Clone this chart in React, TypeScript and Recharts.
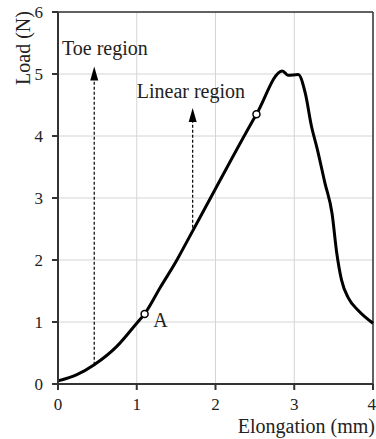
import React from 'react';
import { LineChart, Line, XAxis, YAxis, CartesianGrid, ReferenceLine, ReferenceDot, Label } from 'recharts';

// load–elongation curve
const elongation = [0, 0.24, 0.46, 0.75, 1.0, 1.1, 1.3, 1.51, 1.63, 2.0, 2.52, 2.85, 2.92, 3.05, 3.14, 3.22, 3.29, 3.39, 3.48, 3.54, 3.6, 3.69, 3.81, 4.0];
const load = [0.05, 0.15, 0.31, 0.61, 0.98, 1.13, 1.56, 2.0, 2.28, 3.15, 4.35, 5.05, 4.98, 4.99, 4.69, 4.15, 3.8, 3.24, 2.75, 2.11, 1.68, 1.38, 1.19, 0.98];

const xTicks = [0, 1, 2, 3, 4];
const yTicks = [0, 1, 2, 3, 4, 5, 6];

// open circles on the curve
const markX = [1.1, 2.52];
const markY = [1.13, 4.35];

// dashed arrows: x, start load, tip load
const arrowX = [0.46, 1.71];
const arrowFrom = [0.31, 2.52];
const arrowTo = [5.12, 4.45];

// annotation texts (left / baseline in data units)
const noteText = ['Toe region', 'Linear region', 'A'];
const noteX = [0.05, 1.0, 1.21];
const noteY = [5.31, 4.61, 0.915];

const data = elongation.map((e, i) => ({ e, load: load[i] }));

const serif = 'Liberation Serif';
const ink = '#222';
const textStyle = { fontFamily: serif };

export default function App() {
  return (
    <div style={{ position: 'absolute', left: 0, top: 0, width: 376, height: 439, background: '#fff', fontFamily: serif }}>
      <LineChart width={376} height={439} data={data} margin={{ top: 12, right: 3, bottom: 0, left: 0 }} style={textStyle}>
        <CartesianGrid stroke="#d4d4d4" strokeWidth={1} />
        <XAxis
          type="number"
          dataKey="e"
          domain={[0, 4]}
          ticks={xTicks}
          height={55}
          stroke="#333"
          strokeWidth={2}
          tickSize={6}
          tickMargin={8}
          tick={{ fill: ink, fontSize: 17, fontFamily: serif, style: textStyle }}
        >
          <Label
            content={(p: any) => (
              <text
                x={p.viewBox.x + p.viewBox.width + 2}
                y={p.viewBox.y + 49}
                textAnchor="end"
                fill={ink}
                fontSize={20}
                style={textStyle}
              >
                Elongation (mm)
              </text>
            )}
          />
        </XAxis>
        <YAxis
          type="number"
          domain={[0, 6]}
          ticks={yTicks}
          width={58}
          stroke="#333"
          strokeWidth={2}
          tickSize={6}
          tickMargin={9}
          tick={{ fill: ink, fontSize: 17, fontFamily: serif, style: textStyle }}
        >
          <Label
            content={(p: any) => (
              <text
                x={30}
                y={p.viewBox.y + 36}
                transform={`rotate(-90, 30, ${p.viewBox.y + 36})`}
                textAnchor="middle"
                fill={ink}
                fontSize={20}
                style={textStyle}
              >
                Load (N)
              </text>
            )}
          />
        </YAxis>
        <ReferenceLine y={6} stroke="#333" strokeWidth={1.5} />
        <ReferenceLine x={4} stroke="#333" strokeWidth={1.5} />
        {arrowX.map((x, i) => (
          <ReferenceLine
            key={'a' + i}
            segment={[{ x, y: arrowFrom[i] }, { x, y: arrowTo[i] - 0.1 }]}
            stroke="#000"
            strokeWidth={1.2}
            strokeDasharray="3 2"
          />
        ))}
        {arrowX.map((x, i) => (
          <ReferenceDot
            key={'h' + i}
            x={x}
            y={arrowTo[i]}
            r={1}
            shape={(p: any) => (
              <path d={`M${p.cx},${p.cy} L${p.cx - 4},${p.cy + 14} L${p.cx + 4},${p.cy + 14} Z`} fill="#000" />
            )}
          />
        ))}
        <Line
          type="monotone"
          dataKey="load"
          stroke="#000"
          strokeWidth={3}
          dot={false}
          activeDot={false}
          isAnimationActive={false}
        />
        {markX.map((x, i) => (
          <ReferenceDot key={'m' + i} x={x} y={markY[i]} r={3.5} fill="#fff" stroke="#000" strokeWidth={1.5} />
        ))}
        {noteText.map((t, i) => (
          <ReferenceDot
            key={'n' + i}
            x={noteX[i]}
            y={noteY[i]}
            r={1}
            shape={(p: any) => (
              <text x={p.cx} y={p.cy} fill={ink} fontSize={20} style={textStyle}>
                {t}
              </text>
            )}
          />
        ))}
      </LineChart>
    </div>
  );
}
